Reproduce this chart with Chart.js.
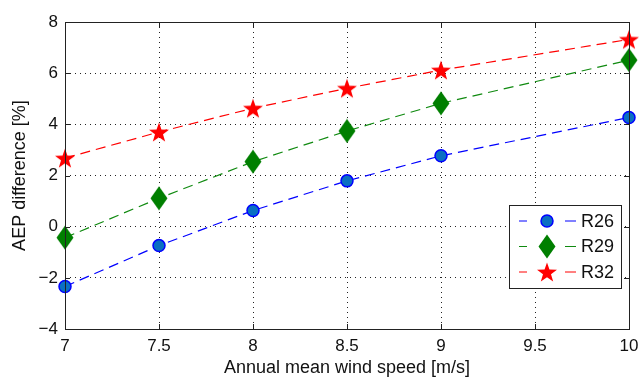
<!DOCTYPE html>
<html>
<head>
<meta charset="utf-8">
<script src="https://cdn.jsdelivr.net/npm/chart.js@4/dist/chart.umd.min.js"></script>
<style>
  html, body { margin: 0; padding: 0; background: #fff; }
  #wrap { width: 639px; height: 377px; }
</style>
</head>
<body>
<div id="wrap"><canvas id="myChart" width="639" height="377"></canvas></div>
<script>
// wind speeds (x) and AEP differences per rotor
var windSpeed = [7, 7.5, 8, 8.5, 9, 10];
var r26 = [-2.34, -0.74, 0.63, 1.79, 2.77, 4.27];
var r29 = [-0.43, 1.11, 2.54, 3.74, 4.82, 6.51];
var r32 = [2.68, 3.70, 4.63, 5.41, 6.12, 7.32];
var seriesNames = ["R26", "R29", "R32"];
var xTicks = [7, 7.5, 8, 8.5, 9, 9.5, 10];
var yTicks = [-4, -2, 0, 2, 4, 6, 8];

var FONT = "'Liberation Sans', Arial, Helvetica, sans-serif";

// marker images (diamond + filled star, like matlab)
var makeDiamond = (w, h, color) => {
  var c = document.createElement("canvas");
  c.width = w; c.height = h;
  var g = c.getContext("2d");
  g.fillStyle = color;
  g.beginPath();
  g.moveTo(w / 2, 0.5);
  g.lineTo(w - 0.5, h / 2);
  g.lineTo(w / 2, h - 0.5);
  g.lineTo(0.5, h / 2);
  g.closePath();
  g.fill();
  return c;
};
var makeStar = (size, color) => {
  var c = document.createElement("canvas");
  c.width = size; c.height = size;
  var g = c.getContext("2d");
  var cx = size / 2, cy = size / 2 + 1, ro = size / 2 - 0.5, ri = ro * 0.4;
  g.fillStyle = color;
  g.beginPath();
  for (var i = 0; i < 10; i++) {
    var r = i % 2 === 0 ? ro : ri;
    var a = -Math.PI / 2 + i * Math.PI / 5;
    var px = cx + r * Math.cos(a), py = cy + r * Math.sin(a);
    i === 0 ? g.moveTo(px, py) : g.lineTo(px, py);
  }
  g.closePath();
  g.fill();
  return c;
};
var diamondImg = makeDiamond(18, 25, "#007F00");
var starImg = makeStar(22, "#FF0000");

var toPts = (ys) => ys.map((y, i) => ({ x: windSpeed[i], y: y }));

// box, inward ticks and legend drawn on top
var boxPlugin = {
  id: "box",
  afterDraw: (chart) => {
    var ctx = chart.ctx, a = chart.chartArea;
    var sx = chart.scales.x, sy = chart.scales.y;
    ctx.save();
    ctx.strokeStyle = "#222";
    ctx.lineWidth = 1;
    ctx.setLineDash([]);
    ctx.strokeRect(Math.round(a.left) + 0.5, Math.round(a.top) + 0.5,
      Math.round(a.right - a.left), Math.round(a.bottom - a.top));
    ctx.beginPath();
    xTicks.forEach((t) => {
      var px = Math.round(sx.getPixelForValue(t)) + 0.5;
      ctx.moveTo(px, a.bottom); ctx.lineTo(px, a.bottom - 5);
      ctx.moveTo(px, a.top); ctx.lineTo(px, a.top + 5);
    });
    yTicks.forEach((t) => {
      var py = Math.round(sy.getPixelForValue(t)) + 0.5;
      ctx.moveTo(a.left, py); ctx.lineTo(a.left + 5, py);
      ctx.moveTo(a.right, py); ctx.lineTo(a.right - 5, py);
    });
    ctx.stroke();

    // legend
    var lx = 509.5, ly = 205.5, lw = 112, lh = 83;
    ctx.fillStyle = "#fff";
    ctx.fillRect(lx, ly, lw, lh);
    ctx.strokeStyle = "#222";
    ctx.strokeRect(lx, ly, lw, lh);
    ctx.font = "18px " + FONT;
    ctx.textBaseline = "middle";
    chart.data.datasets.forEach((ds, i) => {
      var y = 221 + i * 25.5;
      ctx.strokeStyle = ds.borderColor;
      ctx.lineWidth = 1;
      ctx.beginPath();
      ctx.moveTo(519, y); ctx.lineTo(527, y);
      ctx.moveTo(565, y); ctx.lineTo(576, y);
      ctx.stroke();
      var mx = 547;
      if (ds.pointStyle === "circle") {
        ctx.beginPath();
        ctx.arc(mx, y, 6, 0, Math.PI * 2);
        ctx.fillStyle = ds.pointBackgroundColor;
        ctx.fill();
        ctx.lineWidth = 1.5;
        ctx.strokeStyle = ds.pointBorderColor;
        ctx.stroke();
      } else {
        var img = ds.pointStyle;
        ctx.drawImage(img, mx - img.width / 2, y - img.height / 2);
      }
      ctx.fillStyle = "#111";
      ctx.fillText(ds.label, 581, y + 1);
    });
    ctx.restore();
  }
};

var ctx = document.getElementById("myChart").getContext("2d");
var chart = new Chart(ctx, {
  type: "line",
  data: {
    datasets: [
      {
        label: seriesNames[0],
        data: toPts(r26),
        borderColor: "#0000FF",
        borderWidth: 1.2,
        borderDash: [10, 6],
        pointStyle: "circle",
        pointRadius: 6,
        pointBackgroundColor: "#0A6FC2",
        pointBorderColor: "#0000FF",
        pointBorderWidth: 1.5,
        tension: 0,
      },
      {
        label: seriesNames[1],
        data: toPts(r29),
        borderColor: "#108A10",
        borderWidth: 1.2,
        borderDash: [10, 6],
        pointStyle: diamondImg,
        tension: 0,
      },
      {
        label: seriesNames[2],
        data: toPts(r32),
        borderColor: "#FF0000",
        borderWidth: 1.2,
        borderDash: [10, 6],
        pointStyle: starImg,
        tension: 0,
      },
    ],
  },
  options: {
    responsive: false,
    animation: false,
    clip: false,
    layout: { padding: { top: 22, right: 10, left: 0, bottom: 0 } },
    scales: {
      x: {
        type: "linear",
        min: 7,
        max: 10,
        afterBuildTicks: (s) => { s.ticks = xTicks.map((v) => ({ value: v })); },
        afterFit: (s) => { s.height = 48; s.paddingRight = 0; s.paddingLeft = 0; },
        ticks: { color: "#111", font: { family: FONT, size: 17 }, padding: 7, maxRotation: 0,
                 callback: (v) => String(v) },
        grid: { color: "#222", lineWidth: 1, drawTicks: false },
        border: { display: false, dash: [1, 4] },
        title: { display: true, text: "Annual mean wind speed [m/s]", color: "#111",
                 font: { family: FONT, size: 18 }, padding: { top: 0, bottom: -2 } },
      },
      y: {
        min: -4,
        max: 8,
        afterBuildTicks: (s) => { s.ticks = yTicks.map((v) => ({ value: v })); },
        afterFit: (s) => { s.width = 65; s.paddingTop = 0; s.paddingBottom = 0; },
        ticks: { color: "#111", font: { family: FONT, size: 17 }, padding: 7,
                 callback: (v) => String(v).replace("-", "\u2212") },
        grid: { color: "#222", lineWidth: 1, drawTicks: false },
        border: { display: false, dash: [1, 4] },
        title: { display: true, text: "AEP difference [%]", color: "#111",
                 font: { family: FONT, size: 18 }, padding: { top: 9, bottom: 0 } },
      },
    },
    plugins: {
      legend: { display: false },
      tooltip: { enabled: false },
    },
  },
  plugins: [boxPlugin],
});
</script>
</body>
</html>
